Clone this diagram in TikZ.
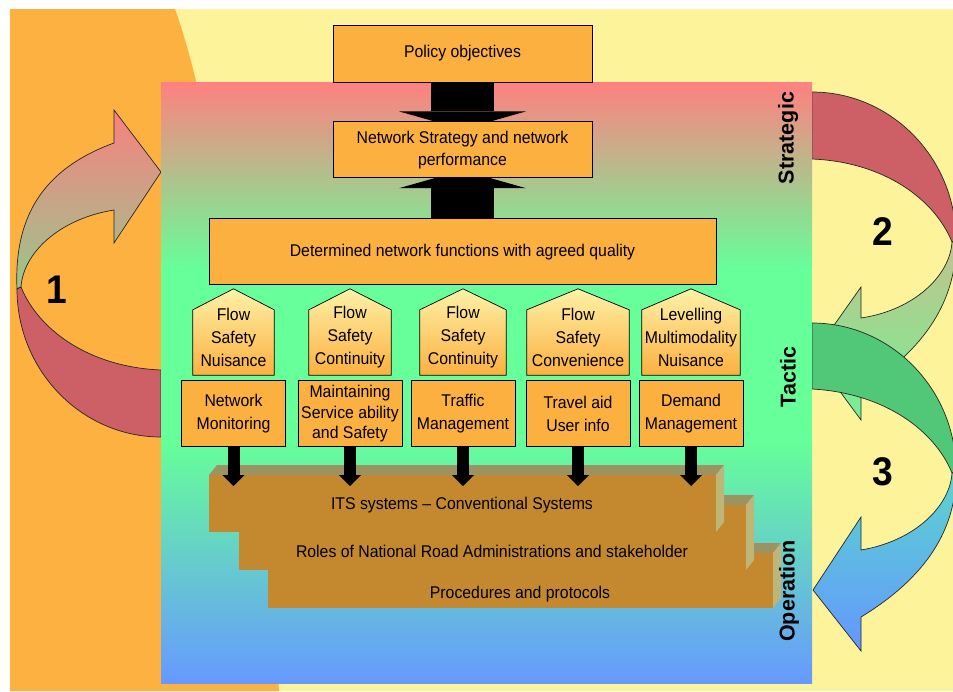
\documentclass[tikz,border=0pt]{standalone}
\usepackage{fontspec}
\setmainfont{Liberation Sans}[FakeStretch=0.93]
\newfontfamily\sidefont{Liberation Sans}
\usetikzlibrary{positioning,arrows.meta,calc}

\definecolor{bgorange}{RGB}{253,177,64}
\definecolor{bgyellow}{RGB}{252,243,154}
\definecolor{boxorange}{RGB}{252,176,64}
\definecolor{houseyellow}{RGB}{254,242,168}
\definecolor{panelpink}{RGB}{255,128,128}
\definecolor{panelgreen}{RGB}{102,255,153}
\definecolor{panelblue}{RGB}{102,153,255}
\definecolor{bandred}{RGB}{204,96,102}
\definecolor{bandgreen}{RGB}{80,200,120}
\definecolor{slabfront}{RGB}{196,137,47}
\definecolor{slabtop}{RGB}{155,147,96}
\definecolor{slabside}{RGB}{190,181,120}

\pgfdeclarelayer{back}
\pgfdeclarelayer{mid}
\pgfsetlayers{back,mid,main}

\begin{document}
\begin{tikzpicture}[x=1pt, y=-1pt, every node/.style={font=\fontsize{17}{23}\selectfont},
    boxnode/.style={fill=boxorange, draw=black, line width=0.8pt, align=center, inner sep=0pt},
    housenode/.style={align=center, inner sep=0pt, minimum height=76pt},
    housefill/.style={draw=black, line width=0.7pt, top color=houseyellow, bottom color=boxorange},
    bigarrow/.style={line width=63pt, -{Triangle[length=18pt, width=127pt, line width=0pt]}},
    downarrow/.style={line width=12pt, -{Triangle[length=11pt, width=22pt, line width=0pt]}},
    ribbon/.style={draw=black!85, line width=0.7pt},
    sidelabel/.style={rotate=90, font=\sidefont\bfseries\fontsize{21.5}{24}\selectfont},
    bignum/.style={font=\bfseries\fontsize{40}{44}\selectfont}]
    \useasboundingbox (0,0) rectangle (953,691);

    \begin{pgfonlayer}{back}
    % Background: yellow sheet with the orange band on the left
    \fill[white] (0,0) rectangle (953,691);
    \fill[bgyellow] (10,9) rectangle (953,691);
    \fill[bgorange] (10,9) -- (175,9) .. controls (215,120) and (260,400) .. (279,691) -- (10,691) -- cycle;

    % Loop arrow 1 (left side)
    \path[ribbon, top color={rgb,255:red,250;green,128;blue,128}, bottom color={rgb,255:red,150;green,200;blue,140}]
    (21,287) .. controls (23,254) and (58,219) .. (114,210) -- (114,243) -- (161,172) -- (114,110) -- (114,143)
    .. controls (40,170) and (14,220) .. (17,289) -- cycle;
    \path[ribbon, fill=bandred]
    (161,437) .. controls (82,437) and (17,371) .. (17,289) -- (21,287)
    .. controls (38,329) and (88,367) .. (161,370) -- cycle;

    % Loop arrow 2 (right side, strategic to tactic)
    \path[ribbon, top color={rgb,255:red,195;green,195;blue,140}, bottom color={rgb,255:red,115;green,240;blue,150}]
    (952,242) .. controls (950,275) and (915,310) .. (861,318) -- (861,287) -- (813,355) -- (861,420) -- (861,389)
    .. controls (925,350) and (957,300) .. (956,240) -- cycle;
    \path[ribbon, fill=bandred]
    (812,92) .. controls (891,92) and (956,158) .. (956,240) -- (952,242)
    .. controls (935,200) and (885,162) .. (812,159) -- cycle;

    % Loop arrow 3 (right side, tactic to operation)
    \path[ribbon, top color={rgb,255:red,90;green,215;blue,205}, bottom color={rgb,255:red,100;green,150;blue,255}]
    (952,473) .. controls (950,506) and (915,541) .. (861,550) -- (861,517) -- (813,590) -- (861,651) -- (861,617)
    .. controls (925,578) and (957,530) .. (956,471) -- cycle;
    \path[ribbon, fill=bandgreen]
    (812,323) .. controls (891,323) and (956,389) .. (956,471) -- (952,473)
    .. controls (935,431) and (885,393) .. (812,389) -- cycle;

    % Main panel: strategic / tactic / operation
    \shade[top color=panelpink, bottom color=panelgreen] (161,82) rectangle (812,268);
    \fill[panelgreen] (161,267) rectangle (812,442);
    \shade[top color=panelgreen, bottom color=panelblue] (161,441) rectangle (812,683);

    % Stairs: procedures, roles, systems
    \fill[slabfront] (268,553) rectangle (773,608);
    \fill[slabtop] (268,553) -- (276,543) -- (781,543) -- (773,553) -- cycle;
    \fill[slabside] (773,553) -- (781,543) -- (781,598) -- (773,608) -- cycle;
    \fill[slabfront] (239,505) rectangle (746,570);
    \fill[slabtop] (239,505) -- (247,495) -- (754,495) -- (746,505) -- cycle;
    \fill[slabside] (746,505) -- (754,495) -- (754,560) -- (746,570) -- cycle;
    \fill[slabfront] (209,475) rectangle (716,532);
    \fill[slabtop] (209,475) -- (217,465) -- (724,465) -- (716,475) -- cycle;
    \fill[slabside] (716,475) -- (724,465) -- (724,522) -- (716,532) -- cycle;
    \end{pgfonlayer}

    % Top boxes
    \node[boxnode, minimum width=259pt, minimum height=57pt] (policy) at (462.5,53.5) {Policy objectives};
    \node[boxnode, minimum width=259pt, minimum height=56pt, font=\fontsize{17}{22}\selectfont, below=39pt of policy] (strategy) {Network Strategy and network\\performance};
    \node[boxnode, minimum width=507pt, minimum height=66pt, below=40pt of strategy] (functions) {Determined network functions with agreed quality};

    % Quality houses
    \node[housenode, minimum width=81pt] (q1) at (233.5,337) {Flow\\Safety\\Nuisance};
    \node[housenode, minimum width=82pt] (q2) at (350,337) {Flow\\Safety\\Continuity};
    \node[housenode, minimum width=86pt] (q3) at (463,337) {Flow\\Safety\\Continuity};
    \node[housenode, minimum width=102pt] (q4) at (578,337) {Flow\\Safety\\Convenience};
    \node[housenode, minimum width=98pt] (q5) at (691,337) {Levelling\\Multimodality\\Nuisance};

    % Task boxes
    \node[boxnode, minimum width=104pt, minimum height=66pt, below=5pt of q1] (b1) {Network\\Monitoring};
    \node[boxnode, minimum width=104pt, minimum height=66pt, font=\fontsize{17}{20.5}\selectfont, below=5pt of q2] (b2) {Maintaining\\Service ability\\and Safety};
    \node[boxnode, minimum width=104pt, minimum height=66pt, below=5pt of q3] (b3) {Traffic\\Management};
    \node[boxnode, minimum width=104pt, minimum height=66pt, below=5pt of q4] (b4) {Travel aid\\User info};
    \node[boxnode, minimum width=104pt, minimum height=66pt, below=5pt of q5] (b5) {Demand\\Management};

    % Stair labels
    \node (its) at (462,505) {ITS systems -- Conventional Systems};
    \node (roles) at (492,551) {Roles of National Road Administrations and stakeholder};
    \node (procs) at (520,594) {Procedures and protocols};

    % Level labels and loop numbers
    \node[sidelabel] (strategic) at (788,138) {Strategic};
    \node[sidelabel] (tactic) at (788,377) {Tactic};
    \node[sidelabel] (operation) at (789,591) {Operation};
    \node[bignum] (one) at (57,290) {1};
    \node[bignum] (two) at (883,232) {2};
    \node[bignum] (three) at (883,472) {3};

    \begin{pgfonlayer}{mid}
    % House shapes behind the texts
    \shade[housefill] (q1.south west) -- ([yshift=-11pt]q1.north west) -- ([yshift=10pt]q1.north) -- ([yshift=-11pt]q1.north east) -- (q1.south east) -- cycle;
    \shade[housefill] (q2.south west) -- ([yshift=-11pt]q2.north west) -- ([yshift=10pt]q2.north) -- ([yshift=-11pt]q2.north east) -- (q2.south east) -- cycle;
    \shade[housefill] (q3.south west) -- ([yshift=-11pt]q3.north west) -- ([yshift=10pt]q3.north) -- ([yshift=-11pt]q3.north east) -- (q3.south east) -- cycle;
    \shade[housefill] (q4.south west) -- ([yshift=-11pt]q4.north west) -- ([yshift=10pt]q4.north) -- ([yshift=-11pt]q4.north east) -- (q4.south east) -- cycle;
    \shade[housefill] (q5.south west) -- ([yshift=-11pt]q5.north west) -- ([yshift=10pt]q5.north) -- ([yshift=-11pt]q5.north east) -- (q5.south east) -- cycle;

    % Big arrows into the network strategy
    \draw[bigarrow] (policy.south) -- ([yshift=-8pt]strategy.north);
    \draw[bigarrow] (functions.north) -- ([yshift=8pt]strategy.south);

    % Arrows down to the systems
    \coordinate (tipline) at (0,486);
    \draw[downarrow] (b1.south) -- (b1.south |- tipline);
    \draw[downarrow] (b2.south) -- (b2.south |- tipline);
    \draw[downarrow] (b3.south) -- (b3.south |- tipline);
    \draw[downarrow] (b4.south) -- (b4.south |- tipline);
    \draw[downarrow] (b5.south) -- (b5.south |- tipline);
    \end{pgfonlayer}
\end{tikzpicture}
\end{document}
